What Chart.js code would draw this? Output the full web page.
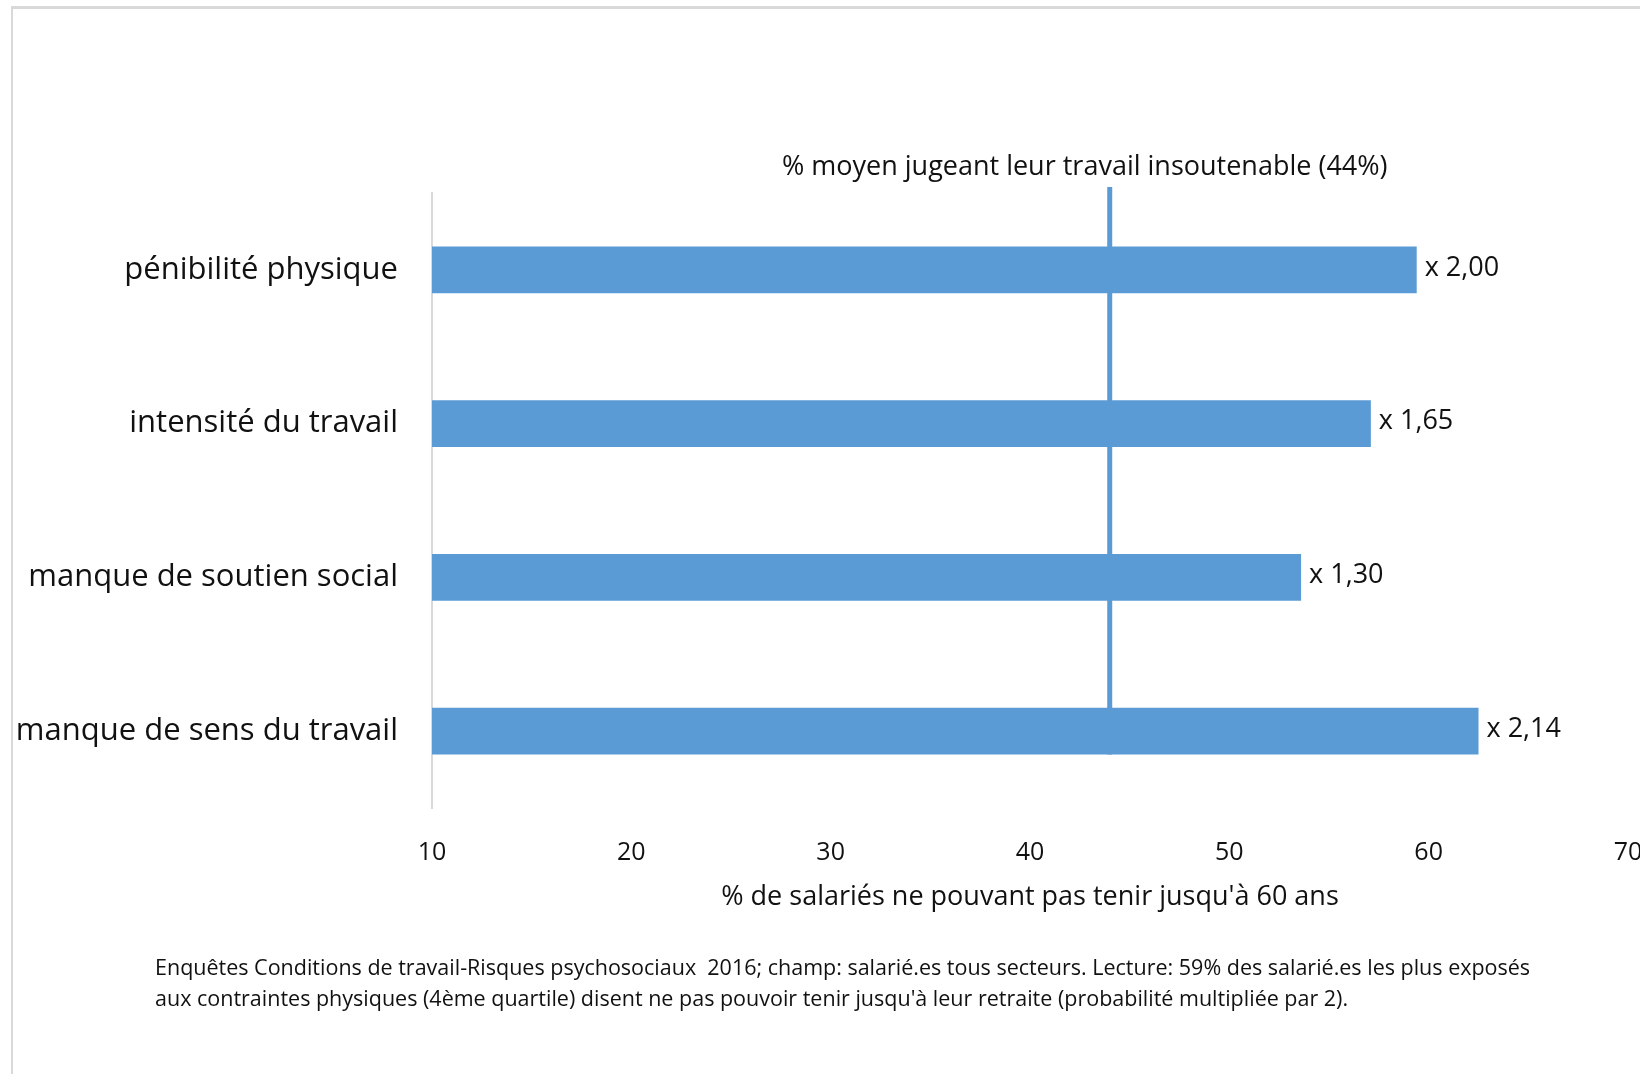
<!DOCTYPE html>
<html lang="fr">
<head>
<meta charset="utf-8">
<script src="https://cdn.jsdelivr.net/npm/chart.js@4/dist/chart.umd.min.js"></script>
<style>
  html, body { margin: 0; padding: 0; background: #fff; overflow: hidden; width: 1640px; height: 1074px; }
  #frame { position: absolute; left: 11px; top: 6px; width: 1700px; height: 1200px; border-top: 3px solid #d9d9d9; border-left: 2px solid #d9d9d9; }
  #chart { position: absolute; left: 0; top: 0; }
  #note { position: absolute; left: 155px; top: 951px; font-family: "Open Sans", sans-serif; font-size: 21.5px; line-height: 31px; color: #111; white-space: nowrap; }
</style>
</head>
<body>
<div id="frame"></div>
<canvas id="chart" width="1680" height="1074"></canvas>
<div id="note">Enquêtes Conditions de travail-Risques psychosociaux&nbsp; 2016; champ: salarié.es tous secteurs. Lecture: 59% des salarié.es les plus exposés<br>aux contraintes physiques (4ème quartile) disent ne pas pouvoir tenir jusqu'à leur retraite (probabilité multipliée par 2).</div>
<script>
'use strict';
// data
var categories = ['pénibilité physique', 'intensité du travail', 'manque de soutien social', 'manque de sens du travail'];
var pctValues = [59.4, 57.1, 53.6, 62.5];
var multipliers = ['x 2,00', 'x 1,65', 'x 1,30', 'x 2,14'];
var xTicks = [10, 20, 30, 40, 50, 60, 70];
var meanPct = 44;
var meanLabel = '% moyen jugeant leur travail insoutenable (44%)';
var xTitle = '% de salariés ne pouvant pas tenir jusqu\'à 60 ans';

var barColor = '#5b9bd5';
var fontName = '"Open Sans", sans-serif';

var ctx = document.getElementById('chart').getContext('2d');

// mean line + its label, and the "x n,nn" labels after each bar
var extras = {
  id: 'extras',
  afterDatasetsDraw: function(chart) {
    var c = chart.ctx;
    var xs = chart.scales.x;
    var area = chart.chartArea;
    var bars = chart.getDatasetMeta(0).data;
    var last = bars[bars.length - 1];
    var lx = xs.getPixelForValue(meanPct);
    c.save();
    c.strokeStyle = barColor;
    c.lineWidth = 5;
    c.beginPath();
    c.moveTo(lx, area.top - 6);
    c.lineTo(lx, last.y + last.height / 2);
    c.stroke();

    c.fillStyle = '#111';
    c.font = '27px ' + fontName;
    c.textAlign = 'center';
    c.textBaseline = 'middle';
    c.fillText(meanLabel, lx - 25, area.top - 26);

    c.textAlign = 'left';
    for (var i = 0; i < bars.length; i++) {
      c.fillText(multipliers[i], bars[i].x + 8, bars[i].y - 2);
    }
    c.restore();
  }
};

var chart = new Chart(ctx, {
  type: 'bar',
  data: {
    labels: categories,
    datasets: [{
      data: pctValues,
      backgroundColor: barColor,
      borderWidth: 0,
      barPercentage: 0.305,
      categoryPercentage: 1
    }]
  },
  options: {
    indexAxis: 'y',
    responsive: false,
    animation: false,
    layout: { padding: { left: 0, right: 52, top: 193, bottom: 160 } },
    plugins: { legend: { display: false }, tooltip: { enabled: false } },
    scales: {
      x: {
        min: xTicks[0],
        max: xTicks[xTicks.length - 1],
        afterBuildTicks: function(scale) {
          scale.ticks = xTicks.map(function(v) { return { value: v }; });
        },
        afterFit: function(scale) { scale.height = 106; },
        grid: { display: false, drawTicks: false, tickLength: 0 },
        border: { display: false },
        ticks: { color: '#111', font: { family: fontName, size: 25 }, padding: 30, maxRotation: 0 },
        title: { display: true, text: xTitle, color: '#111', font: { family: fontName, size: 27 }, padding: { top: 0, bottom: 0 } }
      },
      y: {
        afterFit: function(scale) { scale.width = 432; },
        grid: { display: false, drawTicks: false, tickLength: 0 },
        border: { display: true, color: '#d9d9d9', width: 2 },
        ticks: { color: '#111', font: { family: fontName, size: 31 }, padding: 34 }
      }
    }
  },
  plugins: [extras]
});
</script>
</body>
</html>
